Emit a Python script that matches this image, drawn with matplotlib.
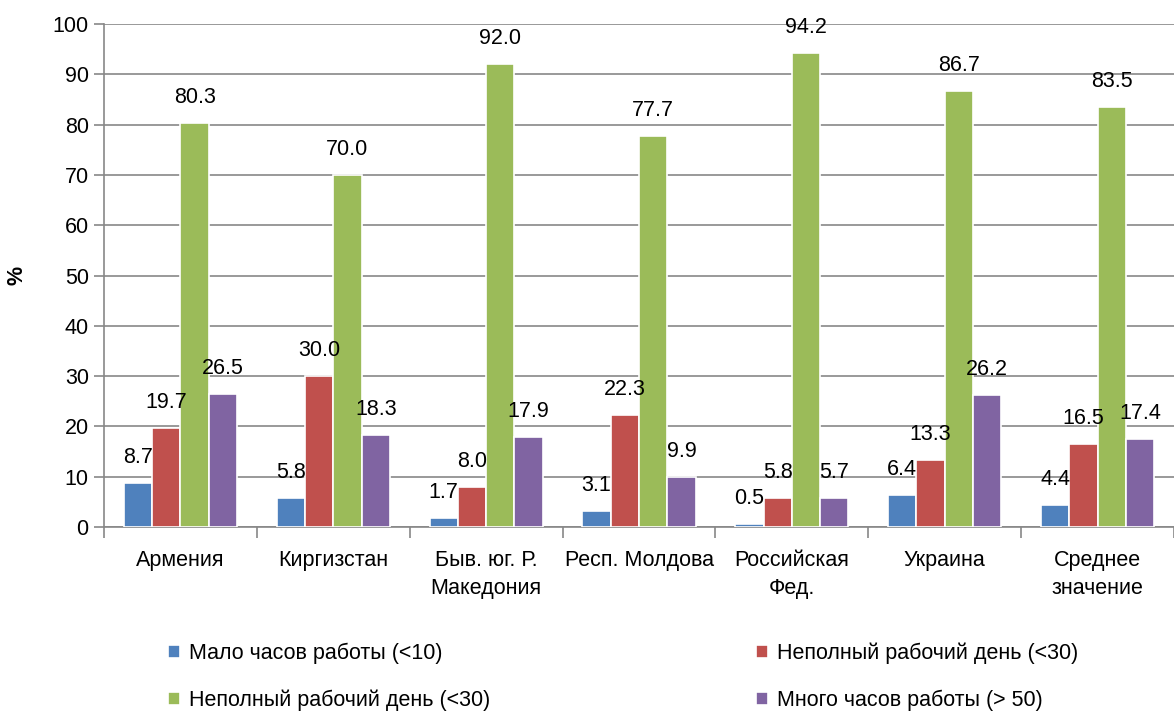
import matplotlib.pyplot as plt
import numpy as np

plt.rcParams['font.family'] = ['Liberation Sans', 'DejaVu Sans']

categories = ['Армения', 'Киргизстан', 'Быв. юг. Р.\nМакедония', 'Респ. Молдова',
              'Российская\nФед.', 'Украина', 'Среднее\nзначение']
series_names = ['Мало часов работы (<10)', 'Неполный рабочий день (<30)',
                'Неполный рабочий день (<30)', 'Много часов работы (> 50)']
few_hours = [8.7, 5.8, 1.7, 3.1, 0.5, 6.4, 4.4]
part_time_red = [19.7, 30.0, 8.0, 22.3, 5.8, 13.3, 16.5]
part_time_green = [80.3, 70.0, 92.0, 77.7, 94.2, 86.7, 83.5]
many_hours = [26.5, 18.3, 17.9, 9.9, 5.7, 26.2, 17.4]
colors = ['#4F81BD', '#C0504D', '#9BBB59', '#8064A2']

series = [few_hours, part_time_red, part_time_green, many_hours]
fs = 15.5

fig = plt.figure(figsize=(11.74, 7.11), dpi=100)
ax = fig.add_axes([0.0886, 0.259, 0.9114, 0.707])

x = np.arange(len(categories))
w = 0.185
bars = []
for i, (vals, c) in enumerate(zip(series, colors)):
    pos = x + (i - 1.5) * w
    b = ax.bar(pos, vals, width=w, color=c, edgecolor='white', linewidth=1.2, zorder=3)
    bars.append(b)
    for px, v in zip(pos, vals):
        ax.text(px, v + 3.0, f'{v:.1f}', ha='center', va='bottom', fontsize=fs, zorder=4)

ax.set_xlim(-0.5, len(categories) - 0.5)
ax.set_ylim(0, 100)
ax.set_yticks(np.arange(0, 101, 10))
ax.yaxis.grid(True, color='#878787', linewidth=1.2, zorder=0)
ax.set_xticks(x)
ax.set_xticklabels(categories, fontsize=fs, linespacing=1.4)
ax.set_xticks(np.arange(-0.5, len(categories), 1.0), minor=True)
ax.tick_params(axis='x', which='major', length=0, pad=17)
ax.tick_params(axis='x', which='minor', length=8, color='#878787', width=1.2)
ax.tick_params(axis='y', labelsize=fs, length=7, color='#878787', width=1.2, pad=4)
for s in ['top', 'right']:
    ax.spines[s].set_visible(False)
for s in ['left', 'bottom']:
    ax.spines[s].set_color('#878787')
    ax.spines[s].set_linewidth(1.2)
ax.set_ylabel('%', fontsize=fs, fontweight='bold', labelpad=18)

leg_kw = dict(loc='upper left', frameon=False, fontsize=fs, handlelength=0.55,
              handleheight=0.55, handletextpad=0.4, labelspacing=1.2, borderaxespad=0)
fig.legend([bars[0], bars[2]], [series_names[0], series_names[2]],
           bbox_to_anchor=(0.136, 0.108), **leg_kw)
fig.legend([bars[1], bars[3]], [series_names[1], series_names[3]],
           bbox_to_anchor=(0.637, 0.108), **leg_kw)

fig.savefig('out.png', dpi=100)
